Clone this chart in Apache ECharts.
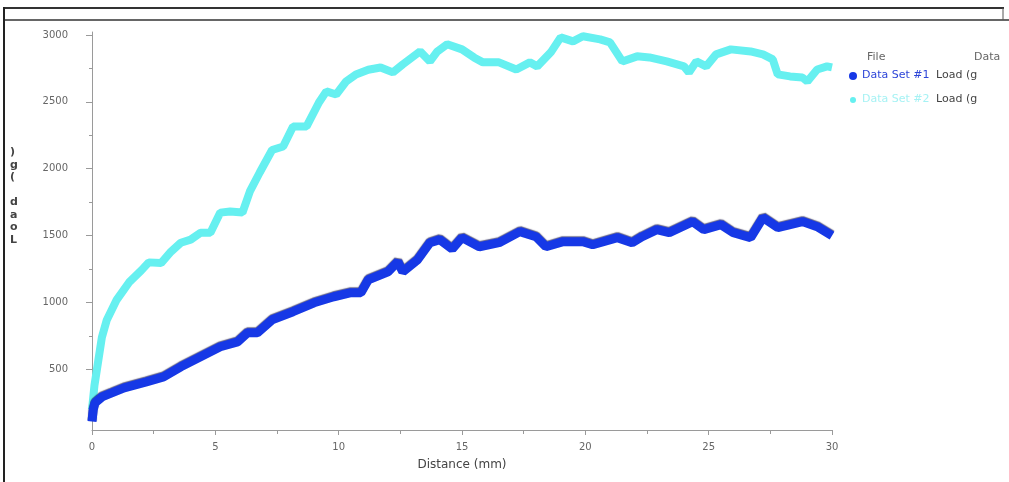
<!DOCTYPE html>
<html>
<head>
<meta charset="utf-8">
<script src="https://cdn.jsdelivr.net/npm/echarts@6/dist/echarts.min.js"></script>
<style>html,body{margin:0;padding:0;background:#fff;}#c{width:1009px;height:482px;}</style>
</head>
<body>
<div id="c"></div>
<script>
// ---- data ----
var xTicks = [0, 5, 10, 15, 20, 25, 30];
var yTicks = [500, 1000, 1500, 2000, 2500, 3000];
var yMinorTicks = [250, 750, 1250, 1750, 2250, 2750];
var seriesNames = ['Data Set #1', 'Data Set #2'];
var dataColumn = 'Load (g';
var xTitle = 'Distance (mm)';
var yTitle = 'Load (g)';

var set1 = [[0,110],[0.05,200],[0.12,250],[0.4,294],[0.8,324],[1.3,362],[2.2,407],[2.9,444],[3.6,519],[4.4,594],[5.2,669],[5.9,706],[6.3,773],[6.7,773],[7.3,871],[8.15,931],[9.0,998],[9.8,1043],[10.5,1073],[10.9,1073],[11.2,1170],[12.0,1230],[12.4,1305],[12.6,1230],[13.2,1320],[13.7,1447],[14.1,1470],[14.6,1400],[15.0,1485],[15.7,1417],[16.5,1447],[17.35,1530],[18.0,1492],[18.4,1417],[19.1,1455],[19.9,1455],[20.3,1432],[21.3,1485],[21.9,1447],[22.3,1492],[22.9,1545],[23.4,1522],[24.35,1605],[24.8,1545],[25.5,1582],[26.0,1522],[26.7,1485],[27.2,1635],[27.8,1560],[28.8,1605],[29.4,1567],[30.0,1500]];

var set2 = [[0,200],[0.1,380],[0.2,500],[0.4,740],[0.6,870],[1.0,1020],[1.5,1150],[2.0,1240],[2.3,1300],[2.8,1295],[3.2,1380],[3.6,1447],[4.0,1470],[4.4,1522],[4.8,1522],[5.2,1672],[5.6,1680],[6.1,1672],[6.4,1830],[6.8,1972],[7.3,2140],[7.75,2166],[8.15,2316],[8.7,2316],[9.2,2495],[9.5,2578],[9.9,2555],[10.3,2652],[10.7,2705],[11.2,2740],[11.7,2757],[12.2,2720],[12.6,2780],[13.3,2877],[13.7,2802],[14.0,2877],[14.4,2930],[15.0,2892],[15.5,2830],[15.85,2795],[16.5,2795],[17.2,2742],[17.75,2795],[18.05,2765],[18.6,2870],[19.0,2982],[19.5,2952],[19.9,2990],[20.6,2967],[21.0,2945],[21.5,2802],[22.1,2840],[22.6,2832],[23.3,2802],[24.0,2765],[24.2,2720],[24.5,2802],[24.9,2765],[25.3,2855],[25.9,2892],[26.7,2877],[27.2,2855],[27.6,2817],[27.8,2705],[28.3,2690],[28.8,2682],[29.0,2652],[29.4,2742],[29.8,2765],[30.0,2757]];

var colors = ['#1638e6', '#66f0f0'];

var chart = echarts.init(document.getElementById('c'));
var axisGray = '#9a9a9a';
var labelGray = '#666';
var font = '"DejaVu Sans", Verdana, sans-serif';

var stackedTitle = yTitle.split('').reverse().join('\n');

var legendItems = [];
legendItems.push({type:'text', left: 867, top: 52, style:{text:'File', fill:'#666', font:'11px ' + font}});
legendItems.push({type:'text', left: 974, top: 52, style:{text:'Data', fill:'#666', font:'11px ' + font}});
seriesNames.forEach(function(n, i){
  var y = 70 + i * 24;
  legendItems.push({type:'circle', shape:{cx:853, cy:y+6, r: i === 0 ? 4 : 3}, style:{fill: colors[i]}});
  legendItems.push({type:'text', left: 862, top: y, style:{text:n, fill: i === 0 ? '#2d45d8' : '#a6f2f4', font:'11px ' + font}});
  legendItems.push({type:'text', left: 936, top: y, style:{text:dataColumn, fill:'#444', font:'11px ' + font}});
});

function plain(v){ return String(v); }

var option = {
  backgroundColor: '#fff',
  animation: false,
  grid: {left: 92, right: 177, top: 32, bottom: 52},
  xAxis: {
    type: 'value', min: 0, max: 30, interval: 5,
    name: xTitle, nameLocation: 'middle', nameGap: 29,
    nameTextStyle: {color: '#444', fontSize: 12, fontFamily: font},
    axisLine: {show: true, lineStyle: {color: axisGray, width: 1}},
    axisTick: {show: true, length: 5, lineStyle: {color: axisGray}},
    minorTick: {show: true, splitNumber: 2, length: 4, lineStyle: {color: axisGray}},
    axisLabel: {color: labelGray, fontSize: 10, fontFamily: font, margin: 12, formatter: plain},
    splitLine: {show: false}
  },
  yAxis: [{
    type: 'value', min: 47, max: 3022,
    axisLine: {show: true, lineStyle: {color: axisGray, width: 1}},
    axisTick: {show: true, length: 6, customValues: yTicks, lineStyle: {color: axisGray}},
    axisLabel: {color: labelGray, fontSize: 10, fontFamily: font, margin: 24, customValues: yTicks, formatter: plain},
    splitLine: {show: false}
  }, {
    type: 'value', min: 47, max: 3022, position: 'left',
    axisLine: {show: false},
    axisTick: {show: true, length: 3, customValues: yMinorTicks, lineStyle: {color: axisGray}},
    axisLabel: {show: false, customValues: yMinorTicks},
    splitLine: {show: false}
  }],
  series: [{
    name: seriesNames[1], type: 'line', data: set2, showSymbol: false,
    lineStyle: {color: colors[1], width: 8}, itemStyle: {color: colors[1]}, z: 2
  }, {
    name: seriesNames[0], type: 'line', data: set1, showSymbol: false,
    lineStyle: {color: colors[0], width: 9, shadowColor: 'rgba(0,0,60,0.6)', shadowBlur: 1, shadowOffsetY: -1},
    itemStyle: {color: colors[0]}, z: 3
  }],
  graphic: [
    {type:'line', shape:{x1:4, y1:8, x2:1004, y2:8}, style:{stroke:'#333', lineWidth:2}},
    {type:'line', shape:{x1:4, y1:20, x2:1009, y2:20}, style:{stroke:'#666', lineWidth:2}},
    {type:'line', shape:{x1:4, y1:7, x2:4, y2:482}, style:{stroke:'#222', lineWidth:2}},
    {type:'line', shape:{x1:1003, y1:8, x2:1003, y2:20}, style:{stroke:'#555', lineWidth:1}},
    {type:'text', left: 10, top: 146, style:{text: stackedTitle, fill:'#444', font:'bold 11px ' + font, lineHeight: 12.5, align:'center'}}
  ].concat(legendItems)
};
chart.setOption(option);
</script>
</body>
</html>
